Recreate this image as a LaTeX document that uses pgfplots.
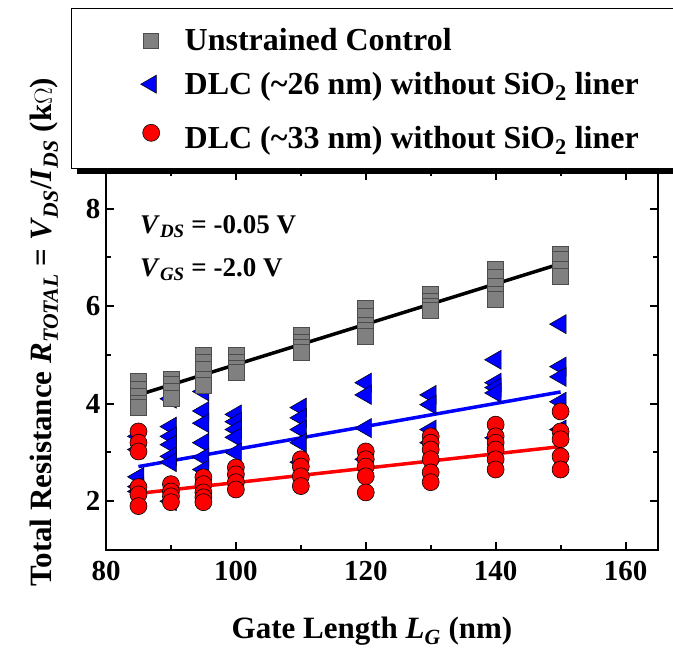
\documentclass[border=0pt]{standalone}
\usepackage{pgfplots}
\pgfplotsset{compat=1.18}
\usepackage{fontspec}
\setmainfont{Liberation Serif}
\definecolor{sqgray}{RGB}{128,128,128}
\begin{document}
\begin{tikzpicture}[x=1pt,y=1pt]
\path[use as bounding box] (0,0) rectangle (673,652);
\begin{axis}[
  at={(106pt,102pt)}, anchor=south west,
  scale only axis, width=552pt, height=378pt,
  xmin=80, xmax=165, ymin=1, ymax=8.75,
  xtick={80,100,...,160}, ytick={2,4,6,8},
  minor x tick num=1, minor y tick num=1,
  tick align=inside, major tick length=8pt, minor tick length=4.5pt,
  axis line style={line width=2.5pt},
  every tick/.style={black, line width=2pt},
  ticklabel style={font=\fontsize{29}{31}\selectfont\bfseries},
  /pgf/number format/assume math mode=true,
  xticklabel style={yshift=-8pt},
  yticklabel style={xshift=-2pt},
  clip=false,
  legend style={at={(axis description cs:0.0625,1.385)}, anchor=north west,
    draw=none, fill=none, font=\fontsize{32}{34}\selectfont\bfseries,
    row sep=16pt, inner sep=0pt, nodes={inner xsep=12pt, inner ysep=2pt},
    /tikz/every odd column/.append style={column sep=13pt}},
  legend cell align=left,
]
\addlegendimage{only marks, mark=square*, mark size=7.5pt, mark options={fill=sqgray, draw=black!70, line width=0.6pt}}
\addlegendentry{Unstrained Control}
\addlegendimage{only marks, mark=triangle*, mark size=10.5pt, mark options={rotate=90, fill=blue, draw=black, line width=0.5pt}}
\addlegendentry{DLC (\textasciitilde 26 nm) without SiO\textsubscript{2} liner}
\addlegendimage{only marks, mark=*, mark size=8.5pt, mark options={fill=red, draw=black, line width=0.6pt}}
\addlegendentry{\rule{0pt}{32pt}DLC (\textasciitilde 33 nm) without SiO\textsubscript{2} liner}

% blue triangles
\addplot[forget plot, only marks, mark=triangle*, mark size=11pt, mark options={rotate=90, fill=blue, draw=black, line width=0.5pt}] coordinates {
(85,3.33)(85,3.06)(85,2.5)(85,2.3)(85,2.2)
(90,4.1)(90,3.53)(90,3.33)(90,3.16)(90,2.92)(90,2.8)(90,2.0)
(95,4.25)(95,3.85)(95,3.6)(95,3.2)(95,2.9)(95,2.65)
(100,3.78)(100,3.63)(100,3.47)(100,3.31)(100,3.0)
(110,3.92)(110,3.71)(110,3.47)(110,3.2)(110,2.8)
(120,4.43)(120,4.18)(120,3.5)(120,2.86)
(130,4.18)(130,3.98)(130,3.47)(130,3.2)
(140,4.9)(140,4.43)(140,4.33)(140,4.22)(140,3.3)
(150,5.63)(150,4.76)(150,4.55)(150,4.04)(150,3.47)
};
% gray squares
\addplot[forget plot, only marks, mark=square*, mark size=8pt, mark options={fill=sqgray, draw=black!70, line width=0.6pt}] coordinates {
(85,4.45)(85,4.3)(85,4.15)(85,4.0)(85,3.92)
(90,4.5)(90,4.4)(90,4.25)(90,4.12)
(95,5.0)(95,4.85)(95,4.7)(95,4.5)(95,4.37)
(100,5.0)(100,4.85)(100,4.72)(100,4.65)
(110,5.4)(110,5.25)(110,5.15)(110,5.06)
(120,5.96)(120,5.8)(120,5.6)(120,5.5)(120,5.39)
(130,6.24)(130,6.1)(130,6.0)(130,5.92)
(140,6.75)(140,6.6)(140,6.4)(140,6.25)(140,6.14)
(150,7.06)(150,6.95)(150,6.75)(150,6.61)
};
% red circles
\addplot[forget plot, only marks, mark=*, mark size=8.5pt, mark options={fill=red, draw=black, line width=0.6pt}] coordinates {
(85,3.43)(85,3.2)(85,3.02)(85,2.29)(85,2.14)(85,1.9)
(90,2.35)(90,2.2)(90,2.1)(90,1.98)
(95,2.49)(95,2.35)(95,2.18)(95,2.08)(95,1.98)
(100,2.69)(100,2.55)(100,2.39)(100,2.24)
(110,2.86)(110,2.71)(110,2.51)(110,2.31)
(120,3.02)(120,2.86)(120,2.71)(120,2.51)(120,2.18)
(130,3.33)(130,3.2)(130,3.06)(130,2.86)(130,2.59)(130,2.39)
(140,3.57)(140,3.33)(140,3.2)(140,3.06)(140,2.86)(140,2.65)
(150,3.84)(150,3.43)(150,3.27)(150,2.92)(150,2.65)
};
% fit lines
\addplot[forget plot, black, line width=3.5pt] coordinates {(85,4.18)(150,6.87)};
\addplot[forget plot, blue, line width=3.5pt] coordinates {(85,2.71)(150,4.24)};
\addplot[forget plot, red, line width=3.5pt] coordinates {(85,2.16)(150,3.12)};
\end{axis}
% legend frame
\draw[line width=0.8pt] (71,644) rectangle (720,484);
\draw[line width=5pt] (77,480) -- (720,480);
% annotations
\node[anchor=base west, font=\fontsize{27}{30}\selectfont\bfseries, inner sep=0pt] at (140,418) {\textit{V}\textsubscript{\textit{DS}} = -0.05 V};
\node[anchor=base west, font=\fontsize{27}{30}\selectfont\bfseries, inner sep=0pt] at (140,375) {\textit{V}\textsubscript{\textit{GS}} = -2.0 V};
% axis labels
\node[anchor=base, font=\fontsize{31}{33}\selectfont\bfseries, inner sep=0pt] at (372,13) {Gate Length \textit{L}\textsubscript{\textit{G}} (nm)};
\node[anchor=base, rotate=90, font=\fontsize{31}{33}\selectfont\bfseries, inner sep=0pt] at (52,320) {Total Resistance \textit{R}\textsubscript{\textit{TOTAL}} = \textit{V}\textsubscript{\textit{DS}}/\textit{I}\textsubscript{\textit{DS}} (k$\Omega$)};
\end{tikzpicture}
\end{document}
